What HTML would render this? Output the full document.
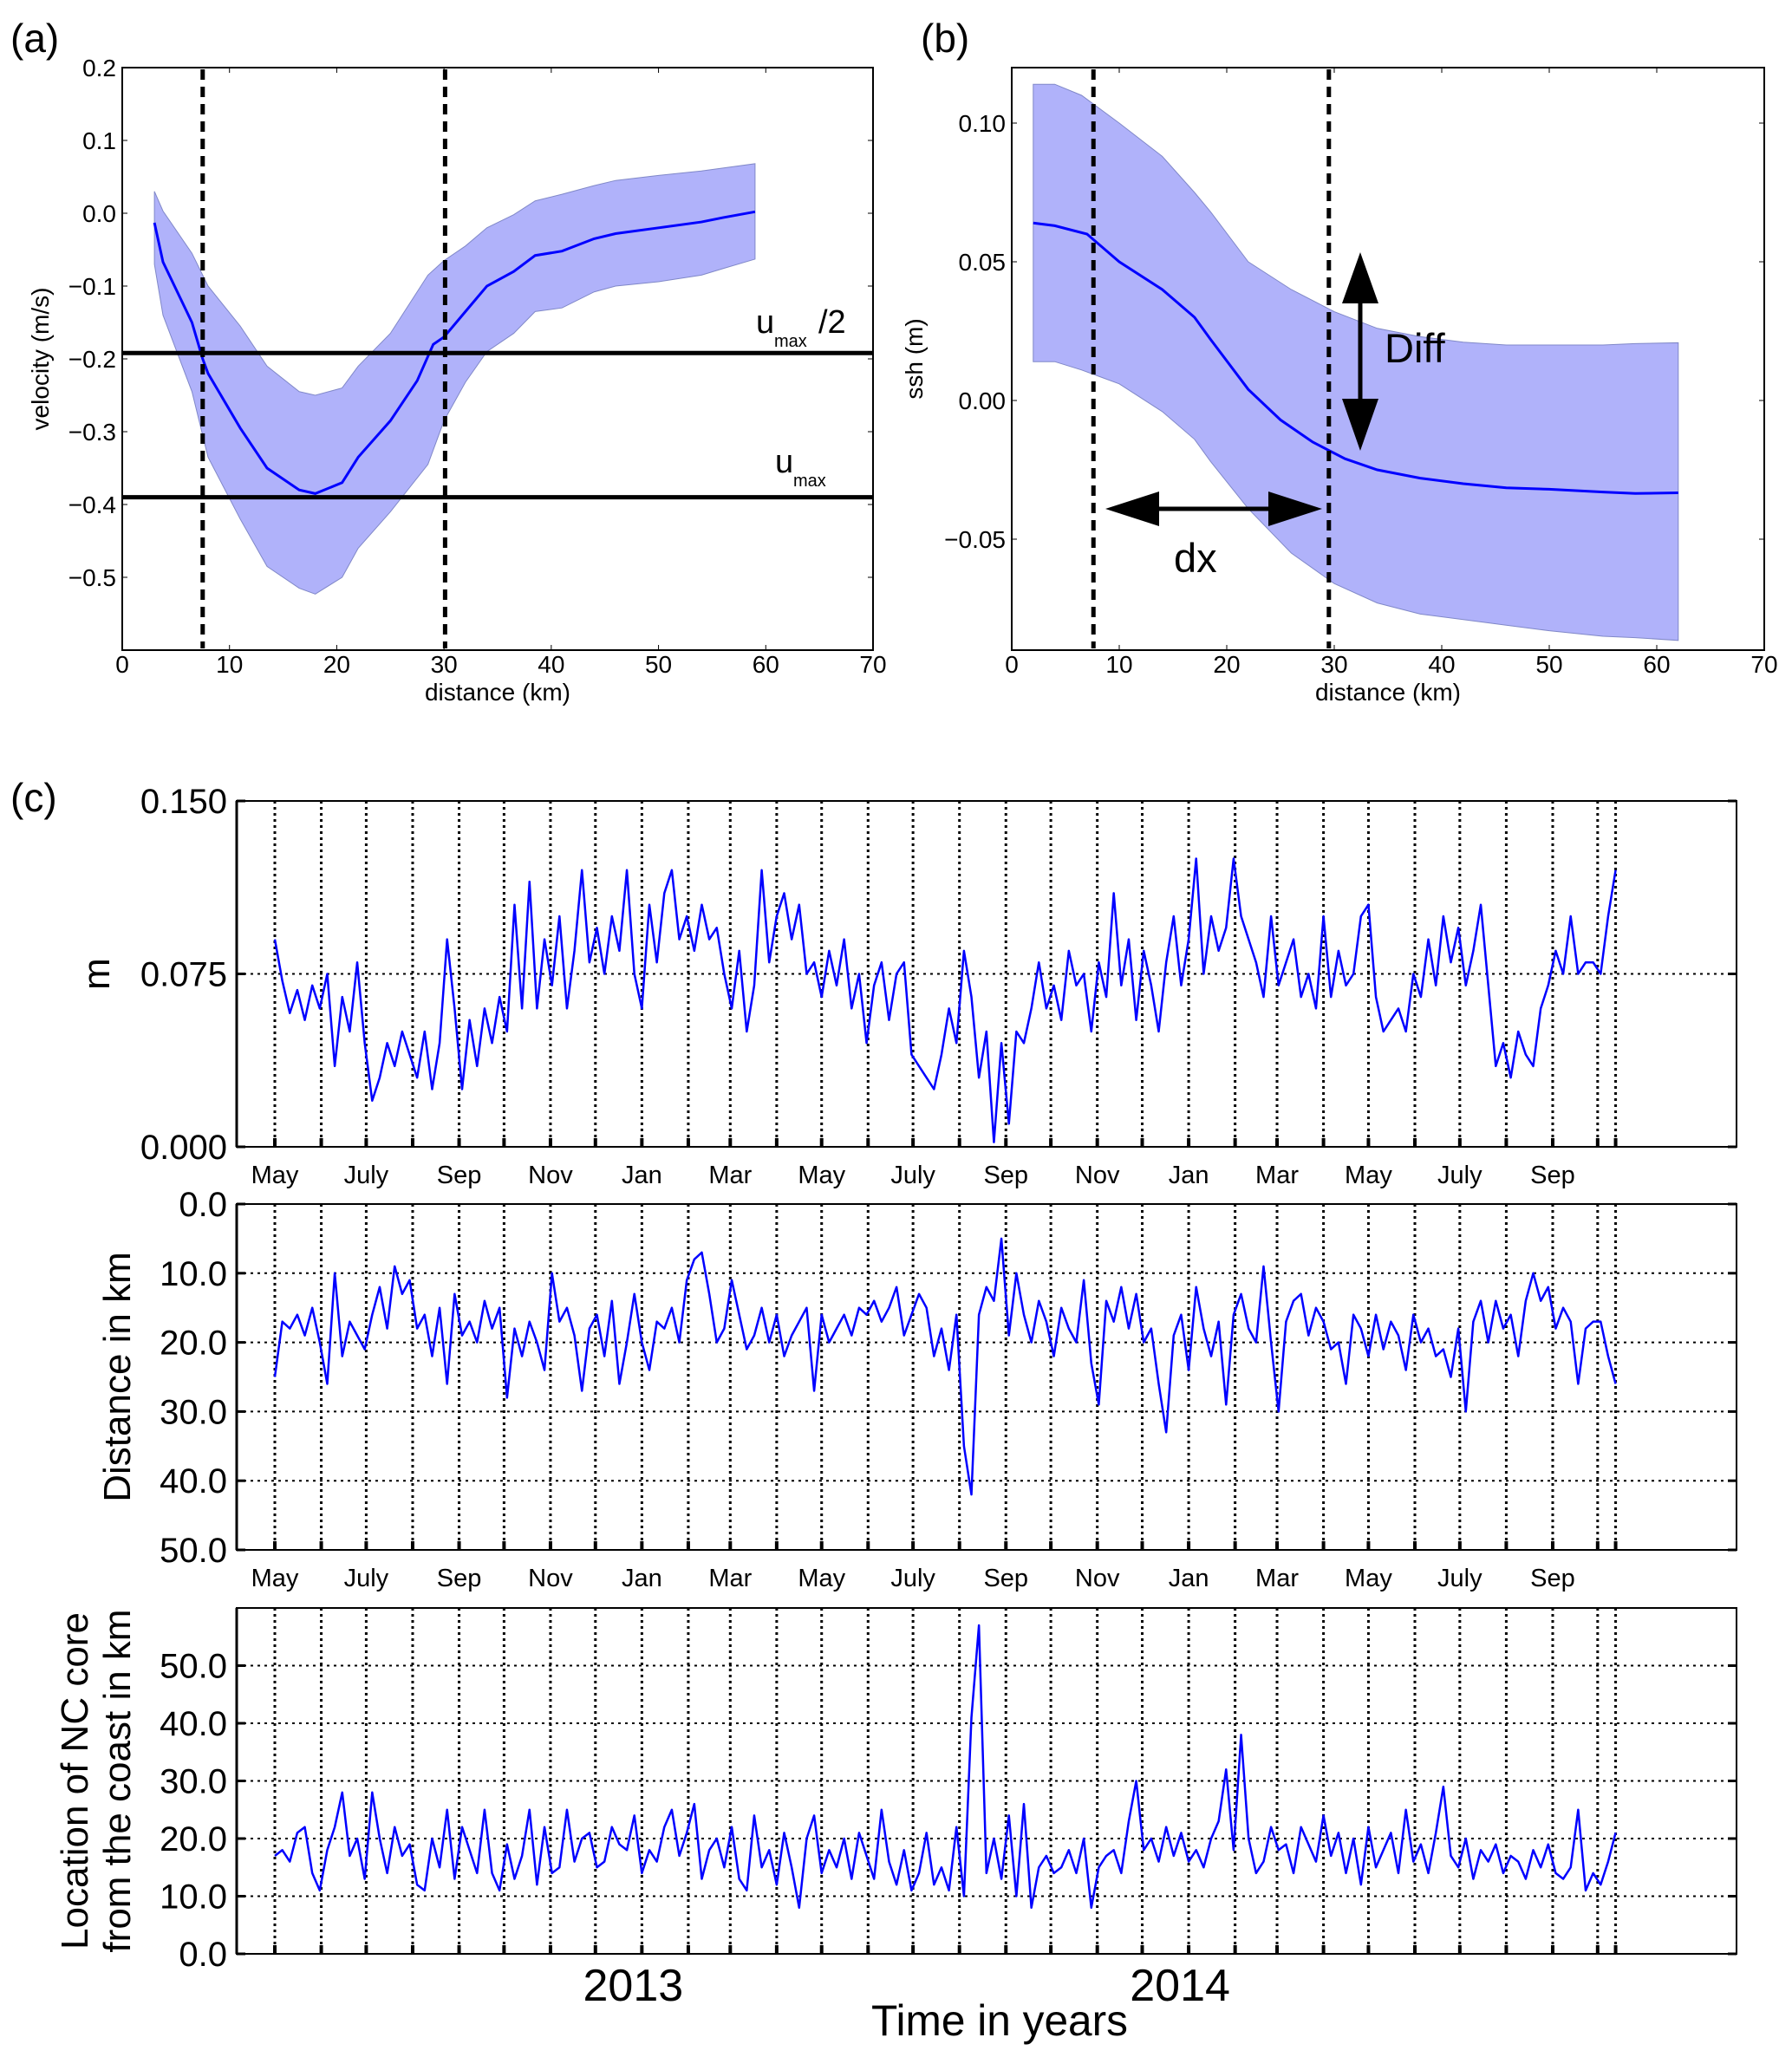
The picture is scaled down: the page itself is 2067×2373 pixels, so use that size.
<!DOCTYPE html>
<html><head><meta charset="utf-8">
<style>
html,body{margin:0;padding:0;background:#fff;}
svg{display:block;}
text{font-family:"Liberation Sans","DejaVu Sans",sans-serif;fill:#000;}
</style></head>
<body>
<svg id="fig" xmlns="http://www.w3.org/2000/svg" width="2067" height="2373" viewBox="0 0 2067 2373"></svg>
<script>
// ---------- Panel (a) data ----------
const aMeanX = [3.0,3.8,6.5,7.5,8,11,13.5,16.5,18,20.5,22,25,27.5,29,30,32,34,36.5,38.5,41,44,46,50,54,56,59];
const aMeanY = [-0.013,-0.067,-0.15,-0.2,-0.22,-0.295,-0.35,-0.38,-0.385,-0.37,-0.335,-0.285,-0.23,-0.18,-0.17,-0.135,-0.1,-0.08,-0.058,-0.052,-0.035,-0.028,-0.02,-0.012,-0.006,0.002];
const aBandX = [3,3.8,6.5,8,11,13.5,16.5,18,20.5,22,25,28.5,30,32,34,36.5,38.5,41,44,46,50,54,56,59];
const aUpper = [0.03,0.003,-0.055,-0.1,-0.155,-0.21,-0.245,-0.25,-0.24,-0.21,-0.165,-0.085,-0.065,-0.045,-0.02,-0.002,0.017,0.026,0.038,0.045,0.052,0.058,0.062,0.068];
const aLower = [-0.07,-0.14,-0.245,-0.335,-0.42,-0.485,-0.515,-0.523,-0.5,-0.46,-0.41,-0.345,-0.285,-0.232,-0.19,-0.165,-0.135,-0.13,-0.108,-0.1,-0.094,-0.085,-0.076,-0.063];
const aVLines = [7.5,30.1];
const aHLines = [-0.192,-0.39];
const aXTicks = [0,10,20,30,40,50,60,70];
const aYTicks = [0.2,0.1,0.0,-0.1,-0.2,-0.3,-0.4,-0.5];
// ---------- Panel (b) data ----------
const bMeanX = [2,4,7,10,14,17,18.5,22,25,28,31,34,38,42,46,50,55,58,62];
const bMeanY = [0.064,0.063,0.06,0.05,0.04,0.03,0.022,0.004,-0.007,-0.015,-0.021,-0.025,-0.028,-0.03,-0.0315,-0.032,-0.033,-0.0335,-0.0333];
const bBandX = [2,4,6.5,10,14,17,18.5,22,26,30,34,38,42,46,50,55,58,62];
const bUpper = [0.114,0.114,0.11,0.1,0.088,0.075,0.068,0.05,0.04,0.032,0.026,0.023,0.021,0.02,0.02,0.02,0.0205,0.0208];
const bLower = [0.014,0.014,0.011,0.006,-0.004,-0.014,-0.022,-0.039,-0.055,-0.066,-0.073,-0.077,-0.079,-0.081,-0.083,-0.085,-0.0855,-0.0865];
const bVLines = [7.6,29.5];
const bXTicks = [0,10,20,30,40,50,60,70];
const bYTicks = [0.10,0.05,0.00,-0.05];
const bYTickLabels = ["0.10","0.05","0.00","\u22120.05"];
// ---------- Panel (c) data (5-day steps from 1 May 2012) ----------
const cStepDays = 5;
const cSSH = [0.09,0.072,0.058,0.068,0.055,0.07, 0.06,0.075,0.035,0.065,0.05,0.08, 0.045,0.02,0.03,0.045,0.035,0.05, 0.04,0.03,0.05,0.025,0.045,0.09,
 0.06,0.025,0.055,0.035,0.06,0.045, 0.065,0.05,0.105,0.06,0.115,0.06, 0.09,0.07,0.1,0.06,0.085,0.12, 0.08,0.095,0.075,0.1,0.085,0.12,
 0.075,0.06,0.105,0.08,0.11,0.12, 0.09,0.1,0.085,0.105,0.09,0.095, 0.075,0.06,0.085,0.05,0.07,0.12, 0.08,0.1,0.11,0.09,0.105,0.075,
 0.08,0.065,0.085,0.07,0.09,0.06, 0.075,0.045,0.07,0.08,0.055,0.075, 0.08,0.04,0.035,0.03,0.025,0.04, 0.06,0.045,0.085,0.065,0.03,0.05,
 0.002,0.045,0.01,0.05,0.045,0.06, 0.08,0.06,0.07,0.055,0.085,0.07, 0.075,0.05,0.08,0.065,0.11,0.07, 0.09,0.055,0.085,0.07,0.05,0.08,
 0.1,0.07,0.09,0.125,0.075,0.1, 0.085,0.095,0.125,0.1,0.09,0.08, 0.065,0.1,0.07,0.08,0.09,0.065, 0.075,0.06,0.1,0.065,0.085,0.07,
 0.075,0.1,0.105,0.065,0.05,0.055, 0.06,0.05,0.075,0.065,0.09,0.07, 0.1,0.08,0.095,0.07,0.085,0.105, 0.07,0.035,0.045,0.03,0.05,0.04,
 0.035,0.06,0.07,0.085,0.075,0.1, 0.075,0.08,0.08,0.075,0.1,0.12];
const cDist = [25,17,18,16,19,15, 20,26,10,22,17,19, 21,16,12,18,9,13, 11,18,16,22,15,26, 13,19,17,20,14,18, 15,28,18,22,17,20,
 24,10,17,15,19,27, 18,16,22,14,26,20, 13,20,24,17,18,15, 20,11,8,7,13,20, 18,11,16,21,19,15, 20,16,22,19,17,15,
 27,16,20,18,16,19, 15,16,14,17,15,12, 19,16,13,15,22,18, 24,16,35,42,16,12, 14,5,19,10,16,20, 14,17,22,15,18,20,
 11,23,29,14,17,12, 18,13,20,18,26,33, 19,16,24,12,18,22, 17,29,16,13,18,20, 9,20,30,17,14,13, 19,15,17,21,20,26,
 16,18,22,16,21,17, 19,24,16,20,18,22, 21,25,18,30,17,14, 20,14,18,16,22,14, 10,14,12,18,15,17, 26,18,17,17,22,26];
const cCore = [17,18,16,21,22,14, 11,18,22,28,17,20, 13,28,20,14,22,17, 19,12,11,20,15,25, 13,22,18,14,25,14, 11,19,13,17,25,12,
 22,14,15,25,16,20, 21,15,16,22,19,18, 24,14,18,16,22,25, 17,21,26,13,18,20, 15,22,13,11,24,15, 18,12,21,15,8,20,
 24,14,18,15,20,13, 21,17,13,25,16,12, 18,11,14,21,12,15, 11,22,10,41,57,14, 20,13,24,10,26,8, 15,17,14,15,18,14,
 20,8,15,17,18,14, 23,30,18,20,16,22, 17,21,16,18,15,20, 23,32,18,38,20,14, 16,22,18,19,14,22, 19,16,24,17,21,14,
 20,12,22,15,18,21, 14,25,16,19,14,21, 29,17,15,20,13,18, 16,19,14,17,16,13, 18,15,19,14,13,15, 25,11,14,12,16,21];
const cMonthNames = ["Jan","Mar","May","July","Sep","Nov"];
const cSSHTicks = [0.15,0.075,0.0];
const cSSHTickLabels = ["0.150","0.075","0.000"];
const cDistTicks = [0,10,20,30,40,50];
const cCoreTicks = [0,10,20,30,40,50];
const cYears = [2013,2014];

const NS = "http://www.w3.org/2000/svg";
const svg = document.getElementById('fig');
function mk(tag, attrs, parent){
  const e = document.createElementNS(NS, tag);
  for (const k in attrs) e.setAttribute(k, attrs[k]);
  (parent||svg).appendChild(e);
  return e;
}
function txt(s, x, y, size, anchor, parent, extra){
  const t = mk('text', Object.assign({x:x, y:y, 'font-size':size, 'text-anchor':anchor||'start'}, extra||{}), parent);
  t.textContent = s;
  return t;
}
function linScale(d0,d1,r0,r1){ return v => r0 + (v-d0)/(d1-d0)*(r1-r0); }
function fmt1(v){ return (v<0?'\u2212':'') + Math.abs(v).toFixed(1); }

// ================= Panel (a) =================
(function(){
  const L=141,R=1007,T=78,B=750;
  const x=linScale(0,70,L,R), y=linScale(-0.6,0.2,B,T);
  const g = mk('g',{});
  
  
  let d='M'+aBandX.map((v,i)=>x(v)+','+y(aUpper[i])).join(' L');
  for(let i=aBandX.length-1;i>=0;i--) d+=' L'+x(aBandX[i])+','+y(aLower[i]);
  const band = mk('path',{d:d+' Z', fill:'#b0b2fa', stroke:'#8088c8','stroke-width':1},g);
  
  
  const ln = mk('polyline',{points:aMeanX.map((v,i)=>x(v)+','+y(aMeanY[i])).join(' '), fill:'none', stroke:'#0000ff','stroke-width':3},g);
  
  
  aVLines.forEach(v=>{
    const l=mk('line',{x1:x(v),x2:x(v),y1:T+2,y2:B-2,stroke:'#000','stroke-width':5,'stroke-dasharray':'12,8'},g);
    
    
  });
  aHLines.forEach(v=>{
    const l=mk('line',{x1:L,x2:R,y1:y(v),y2:y(v),stroke:'#000','stroke-width':5},g);
    
    
  });
  const fr=mk('rect',{x:L,y:T,width:R-L,height:B-T,fill:'none',stroke:'#000','stroke-width':2},g);
  
  
  aXTicks.forEach(v=>{
    mk('line',{x1:x(v),x2:x(v),y1:B,y2:B-6,stroke:'#000','stroke-width':1},g);
    mk('line',{x1:x(v),x2:x(v),y1:T,y2:T+6,stroke:'#000','stroke-width':1},g);
    const t=txt(String(v),x(v),776,28,'middle',g);
    
    
  });
  aYTicks.forEach(v=>{
    mk('line',{x1:L,x2:L+6,y1:y(v),y2:y(v),stroke:'#000','stroke-width':1},g);
    mk('line',{x1:R,x2:R-6,y1:y(v),y2:y(v),stroke:'#000','stroke-width':1},g);
    const t=txt(fmt1(v),134,y(v)+10,28,'end',g);
    
    
  });
  const xl=txt('distance (km)',574,808,28,'middle',g);
  
  
  const yl=txt('velocity (m/s)',0,0,28,'middle',g,{transform:'translate(56,414) rotate(-90)'});
  
  
  const u1=txt('u',872,384,38,'start',g);
  
  
  txt('max',893,400,20,'start',g);
  txt('/2',944,384,38,'start',g);
  const u2=txt('u',894,545,38,'start',g);
  
  
  txt('max',915,561,20,'start',g);
  const p=txt('(a)',12,60,46,'start',g);
  
  
})();

// ================= Panel (b) =================
(function(){
  const L=1167,R=2035,T=78,B=750;
  const x=linScale(0,70,L,R), y=linScale(-0.09,0.12,B,T);
  const g = mk('g',{});
  
  
  let d='M'+bBandX.map((v,i)=>x(v)+','+y(bUpper[i])).join(' L');
  for(let i=bBandX.length-1;i>=0;i--) d+=' L'+x(bBandX[i])+','+y(bLower[i]);
  const band=mk('path',{d:d+' Z', fill:'#b0b2fa', stroke:'#8088c8','stroke-width':1},g);
  
  
  const ln=mk('polyline',{points:bMeanX.map((v,i)=>x(v)+','+y(bMeanY[i])).join(' '), fill:'none', stroke:'#0000ff','stroke-width':3},g);
  
  
  bVLines.forEach(v=>{
    const l=mk('line',{x1:x(v),x2:x(v),y1:T+2,y2:B-2,stroke:'#000','stroke-width':5,'stroke-dasharray':'12,8'},g);
    
    
  });
  const fr=mk('rect',{x:L,y:T,width:R-L,height:B-T,fill:'none',stroke:'#000','stroke-width':2},g);
  
  
  bXTicks.forEach(v=>{
    mk('line',{x1:x(v),x2:x(v),y1:B,y2:B-6,stroke:'#000','stroke-width':1},g);
    mk('line',{x1:x(v),x2:x(v),y1:T,y2:T+6,stroke:'#000','stroke-width':1},g);
    const t=txt(String(v),x(v),776,28,'middle',g);
    
    
  });
  bYTicks.forEach((v,i)=>{
    mk('line',{x1:L,x2:L+6,y1:y(v),y2:y(v),stroke:'#000','stroke-width':1},g);
    mk('line',{x1:R,x2:R-6,y1:y(v),y2:y(v),stroke:'#000','stroke-width':1},g);
    const t=txt(bYTickLabels[i],1160,y(v)+10,28,'end',g);
    
    
  });
  const xl=txt('distance (km)',1601,808,28,'middle',g);
  
  
  const yl=txt('ssh (m)',0,0,28,'middle',g,{transform:'translate(1064,414) rotate(-90)'});
  
  
  const va=mk('g',{},g);
  
  
  mk('line',{x1:1569,x2:1569,y1:340,y2:470,stroke:'#000','stroke-width':5},va);
  mk('polygon',{points:'1569,291 1548,350 1590,350',fill:'#000'},va);
  mk('polygon',{points:'1569,520 1548,460 1590,460',fill:'#000'},va);
  const dl=txt('Diff',1597,418,47,'start',g);
  
  
  const ha=mk('g',{},g);
  
  
  mk('line',{x1:1320,x2:1480,y1:587,y2:587,stroke:'#000','stroke-width':5},ha);
  mk('polygon',{points:'1275,587 1337,567 1337,607',fill:'#000'},ha);
  mk('polygon',{points:'1525,587 1463,567 1463,607',fill:'#000'},ha);
  const dx=txt('dx',1354,660,47,'start',g);
  
  
  const p=txt('(b)',1062,60,46,'start',g);
  
  
})();

// ================= Panel (c) =================
(function(){
  const L=273,R=2003;
  const t0=Date.UTC(2012,4,1);
  const xd=d=>317+d*1.728;
  const lastDay=(cSSH.length-1)*cStepDays;
  const months=[];
  for(let k=0;k<30;k++){
    const dt=Date.UTC(2012,4+k,1);
    const day=(dt-t0)/86400000;
    if(day>lastDay) break;
    months.push({day:day, m:new Date(dt).getUTCMonth(), y:new Date(dt).getUTCFullYear()});
  }
  const monLabel={0:'Jan',2:'Mar',4:'May',6:'July',8:'Sep',10:'Nov'};
  function panel(name,T,B,y,series,ticks,tickLabels,showMonths,ylabelLines,ylabX){
    const g=mk('g',{});
    
    
    ticks.forEach((v,i)=>{
      const gl=mk('line',{x1:L,x2:R,y1:y(v),y2:y(v),stroke:'#000','stroke-width':2,'stroke-dasharray':'3,5'},g);
      
      
      mk('line',{x1:L,x2:L+10,y1:y(v),y2:y(v),stroke:'#000','stroke-width':3},g);
      mk('line',{x1:R,x2:R-10,y1:y(v),y2:y(v),stroke:'#000','stroke-width':3},g);
      const t=txt(tickLabels[i],262,y(v)+14,40,'end',g,{'font-family':'DejaVu Sans, sans-serif'});
      
      
    });
    const mdays=months.map(o=>o.day).concat([lastDay]);
    mdays.forEach(dy=>{
      const gl=mk('line',{x1:xd(dy),x2:xd(dy),y1:T,y2:B,stroke:'#000','stroke-width':3,'stroke-dasharray':'3,4'},g);
      
      
      mk('line',{x1:xd(dy),x2:xd(dy),y1:B,y2:B-10,stroke:'#000','stroke-width':4},g);
    });
    const ln=mk('polyline',{points:series.map((v,i)=>xd(i*cStepDays)+','+y(v)).join(' '),fill:'none',stroke:'#0000ff','stroke-width':2.5,'stroke-linejoin':'round'},g);
    
    
    const fr=mk('rect',{x:L,y:T,width:R-L,height:B-T,fill:'none',stroke:'#000','stroke-width':2},g);
    
    
    mk('line',{x1:L,x2:L,y1:T,y2:B,stroke:'#000','stroke-width':3},g);
    if(showMonths){
      months.forEach(o=>{
        if(monLabel[o.m]===undefined) return;
        const t=txt(monLabel[o.m],xd(o.day),B+42,29,'middle',g);
        
        
      });
    }
    ylabelLines.forEach((s,i)=>{
      const t=txt(s,0,0,44,'middle',g,{transform:'translate('+ylabX[i]+','+((T+B)/2)+') rotate(-90)'});
      
      
    });
    return g;
  }
  const y1=linScale(0,0.15,1323,924);
  panel('ssh-difference-panel',924,1323,y1,cSSH,cSSHTicks,cSSHTickLabels,true,['m'],[126]);
  const y2=linScale(0,50,1389,1788);
  panel('front-width-panel',1389,1788,y2,cDist,cDistTicks,cDistTicks.map(v=>v.toFixed(1)),true,['Distance in km'],[150]);
  const y3=linScale(0,60,2254,1855);
  const g3=panel('core-location-panel',1855,2254,y3,cCore,cCoreTicks,cCoreTicks.map(v=>v.toFixed(1)),false,['Location of NC core','from the coast in km'],[101,150]);
  months.forEach(o=>{
    if(o.m!==0) return;
    const t=txt(String(o.y),xd(o.day)-10,2308,52,'middle',g3);
    
    
  });
  const xl=txt('Time in years',1153,2348,50,'middle',g3,{textLength:296,lengthAdjust:'spacingAndGlyphs'});
  
  
  const p=txt('(c)',12,936,46,'start');
  
  
})();
</script>
</body></html>
